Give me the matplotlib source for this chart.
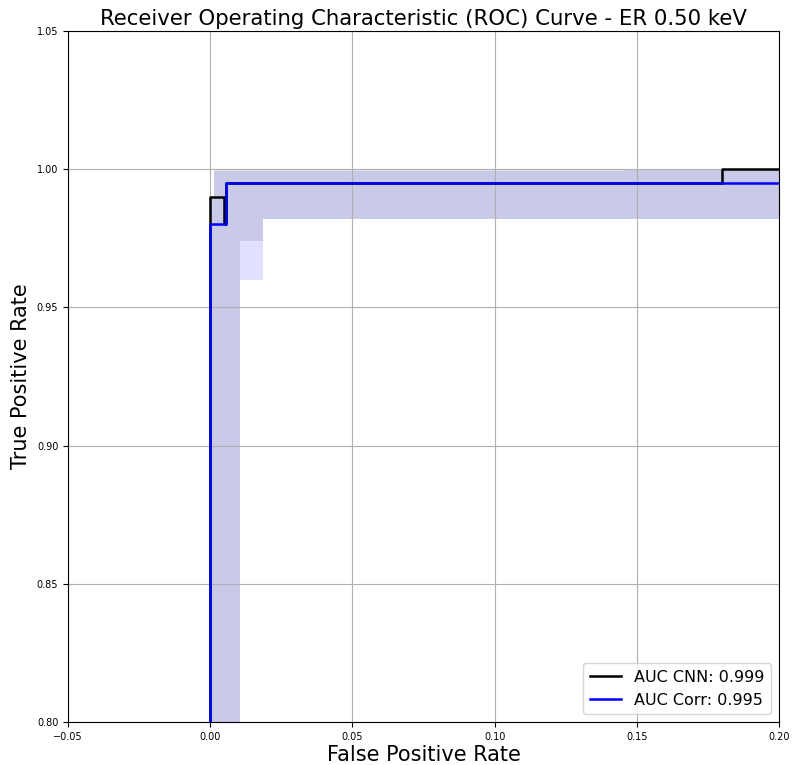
import matplotlib
matplotlib.use("Agg")
import matplotlib.pyplot as plt

# Mean ROC curves (step points)
fpr_cnn = [0.0, 0.0, 0.005, 0.005, 0.0057, 0.0057, 0.18, 0.18, 1.0]
tpr_cnn = [0.0, 0.99, 0.99, 0.98, 0.98, 0.995, 0.995, 1.0, 1.0]
fpr_corr = [0.0, 0.0, 0.0057, 0.0057, 1.0]
tpr_corr = [0.0, 0.98, 0.98, 0.995, 0.995]

# Uncertainty bands (step, post)
band_x = [0.0, 0.0015, 0.0105, 0.0186, 0.145, 1.0]
cnn_upper = [0.99, 1.0, 1.0, 1.0, 1.0, 1.0]
cnn_lower = [0.0, 0.0, 0.974, 0.982, 0.982, 0.982]
corr_upper = [0.99, 0.9995, 0.9995, 0.9995, 1.0, 1.0]
corr_lower = [0.0, 0.0, 0.960, 0.982, 0.982, 0.982]

auc_cnn = 0.999
auc_corr = 0.995

fig = plt.figure(figsize=(7.92, 7.65), dpi=100)
ax = fig.add_axes([0.0859, 0.0562, 0.8977, 0.9033])

ax.fill_between(band_x, cnn_lower, cnn_upper, step="post", color="grey", alpha=0.2, lw=0, zorder=1)
ax.fill_between(band_x, corr_lower, corr_upper, step="post", color="blue", alpha=0.12, lw=0, zorder=1)

ax.plot(fpr_cnn, tpr_cnn, color="black", lw=1.8, label=f"AUC CNN: {auc_cnn:.3f}", zorder=3)
ax.plot(fpr_corr, tpr_corr, color="blue", lw=1.8, label=f"AUC Corr: {auc_corr:.3f}", zorder=3)

ax.set_xlim(-0.05, 0.20)
ax.set_ylim(0.80, 1.05)
ax.set_xticks([-0.05, 0.0, 0.05, 0.10, 0.15, 0.20])
ax.set_yticks([0.80, 0.85, 0.90, 0.95, 1.00, 1.05])
ax.tick_params(labelsize=7)
ax.set_axisbelow("line")
ax.grid(True, color="#b0b0b0", lw=0.8)

ax.set_xlabel("False Positive Rate", fontsize=15, labelpad=2)
ax.set_ylabel("True Positive Rate", fontsize=15)
ax.set_title("Receiver Operating Characteristic (ROC) Curve - ER 0.50 keV", fontsize=15.3, pad=4)
ax.legend(loc="lower right", fontsize=11.5)

fig.savefig("out.png", dpi=100)
